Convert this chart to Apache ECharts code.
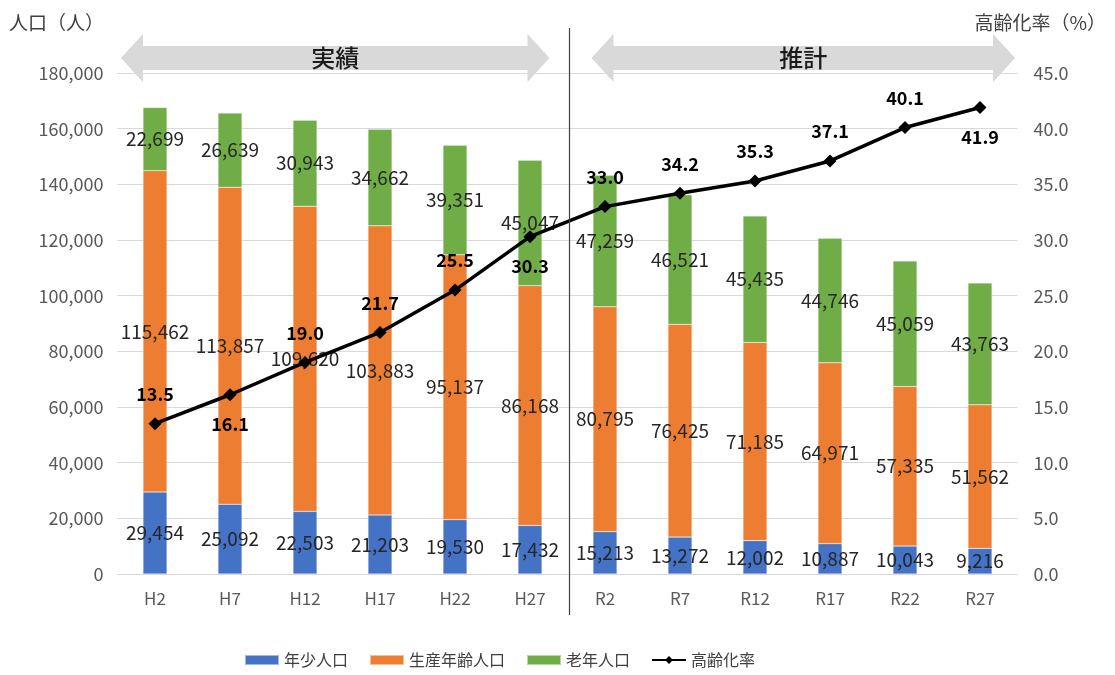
<!DOCTYPE html>
<html>
<head>
<meta charset="utf-8">
<script src="https://cdn.jsdelivr.net/npm/echarts@6/dist/echarts.min.js"></script>
<style>
  html, body { margin: 0; padding: 0; background: #fff; }
  #chart { width: 1115px; height: 675px; }
</style>
</head>
<body>
<div id="chart"></div>
<script>
// 年次区分
const categories = ['H2', 'H7', 'H12', 'H17', 'H22', 'H27', 'R2', 'R7', 'R12', 'R17', 'R22', 'R27'];
// 年齢3区分別人口（人）
const youngPop = [29454, 25092, 22503, 21203, 19530, 17432, 15213, 13272, 12002, 10887, 10043, 9216];
const workingPop = [115462, 113857, 109620, 103883, 95137, 86168, 80795, 76425, 71185, 64971, 57335, 51562];
const elderlyPop = [22699, 26639, 30943, 34662, 39351, 45047, 47259, 46521, 45435, 44746, 45059, 43763];
// 高齢化率（%）
const agingRate = [13.5, 16.1, 19.0, 21.7, 25.5, 30.3, 33.0, 34.2, 35.3, 37.1, 40.1, 41.9];
// 高齢化率ラベルの上下位置
const rateLabelPos = ['top', 'bottom', 'top', 'top', 'top', 'bottom', 'top', 'top', 'top', 'top', 'top', 'bottom'];

const FONT = '"Noto Sans CJK JP", "Noto Sans", sans-serif';
const fmt = v => v.toLocaleString('en-US');

const chart = echarts.init(document.getElementById('chart'), null, { renderer: 'canvas' });

const barLabel = {
  show: true,
  position: 'inside',
  color: '#262626',
  fontSize: 19,
  fontFamily: FONT,
  formatter: p => fmt(p.value)
};

function barSeries(name, data, color) {
  return {
    name: name,
    type: 'bar',
    stack: 'pop',
    barWidth: 24,
    itemStyle: { color: color, borderColor: 'rgba(255,255,255,0.5)', borderWidth: 0.5 },
    label: barLabel,
    data: data
  };
}

function arrowPoints(x1, x2) {
  const yc = 58, bh = 12, hh = 24, hl = 22;
  return [
    [x1, yc], [x1 + hl, yc - hh], [x1 + hl, yc - bh], [x2 - hl, yc - bh], [x2 - hl, yc - hh],
    [x2, yc], [x2 - hl, yc + hh], [x2 - hl, yc + bh], [x1 + hl, yc + bh], [x1 + hl, yc + hh]
  ];
}

const option = {
  backgroundColor: '#ffffff',
  animation: false,
  textStyle: { fontFamily: FONT },
  grid: { left: 117.5, right: 97.5, top: 73, bottom: 101 },
  legend: {
    bottom: 2,
    left: 239,
    itemWidth: 34,
    itemHeight: 10,
    itemGap: 21,
    textStyle: { fontSize: 16, color: '#404040', fontFamily: FONT },
    data: [
      { name: '年少人口', icon: 'rect' },
      { name: '生産年齢人口', icon: 'rect' },
      { name: '老年人口', icon: 'rect' },
      { name: '高齢化率' }
    ]
  },
  xAxis: {
    type: 'category',
    data: categories,
    axisTick: { show: false },
    axisLine: { show: false },
    axisLabel: { color: '#595959', fontSize: 17, margin: 16, fontFamily: FONT }
  },
  yAxis: [
    {
      type: 'value',
      min: 0,
      max: 180000,
      interval: 20000,
      axisLine: { show: false },
      axisTick: { show: false },
      axisLabel: { color: '#595959', fontSize: 18, margin: 14, formatter: v => fmt(v), fontFamily: FONT },
      splitLine: { lineStyle: { color: '#d9d9d9', width: 1 } }
    },
    {
      type: 'value',
      min: 0,
      max: 45,
      interval: 5,
      axisLine: { show: false },
      axisTick: { show: false },
      axisLabel: { color: '#595959', fontSize: 18, margin: 16, formatter: v => v.toFixed(1), fontFamily: FONT },
      splitLine: { show: false }
    }
  ],
  series: [
    barSeries('年少人口', youngPop, '#4472C4'),
    barSeries('生産年齢人口', workingPop, '#ED7D31'),
    barSeries('老年人口', elderlyPop, '#70AD47'),
    {
      name: '高齢化率',
      type: 'line',
      yAxisIndex: 1,
      symbol: 'diamond',
      symbolSize: 13,
      itemStyle: { color: '#000000' },
      lineStyle: { color: '#000000', width: 3.5 },
      z: 10,
      label: {
        show: true,
        color: '#000000',
        fontSize: 18,
        fontWeight: 'bold',
        fontFamily: FONT,
        distance: 14,
        formatter: p => p.value.toFixed(1)
      },
      data: agingRate.map((v, i) => ({ value: v, label: { position: rateLabelPos[i] } }))
    }
  ]
};

chart.setOption(option);

// 実績／推計の区切り線と矢印、軸タイトル
const gridTop = 28, gridBottom = 615;
const xH27 = chart.convertToPixel({ xAxisIndex: 0 }, 'H27');
const xR2 = chart.convertToPixel({ xAxisIndex: 0 }, 'R2');
const xSep = (xH27 + xR2) / 2 + 2;
const xFirst = chart.convertToPixel({ xAxisIndex: 0 }, 'H2');
const xLast = chart.convertToPixel({ xAxisIndex: 0 }, 'R27');

chart.setOption({
  graphic: [
    {
      type: 'text',
      style: { text: '人口（人）', x: 9, y: 23, align: 'left', verticalAlign: 'middle', font: '19px ' + FONT, fill: '#404040' }
    },
    {
      type: 'text',
      style: { text: '高齢化率（%）', x: 1106, y: 23, align: 'right', verticalAlign: 'middle', font: '19px ' + FONT, fill: '#404040' }
    },
    {
      type: 'line',
      shape: { x1: xSep, y1: gridTop, x2: xSep, y2: gridBottom },
      style: { stroke: '#404040', lineWidth: 1.2 },
      z: 20
    },
    {
      type: 'polygon',
      shape: { points: arrowPoints(xFirst - 34, xSep - 20) },
      style: { fill: '#d9d9d9' },
      z: 5
    },
    {
      type: 'text',
      style: { text: '実績', x: (xFirst - 34 + xSep - 20) / 2, y: 58, align: 'center', verticalAlign: 'middle', font: '500 24px ' + FONT, fill: '#1a1a1a' },
      z: 6
    },
    {
      type: 'polygon',
      shape: { points: arrowPoints(xSep + 22, xLast + 35) },
      style: { fill: '#d9d9d9' },
      z: 5
    },
    {
      type: 'text',
      style: { text: '推計', x: (xSep + 22 + xLast + 35) / 2, y: 58, align: 'center', verticalAlign: 'middle', font: '500 24px ' + FONT, fill: '#1a1a1a' },
      z: 6
    }
  ]
});
</script>
</body>
</html>
